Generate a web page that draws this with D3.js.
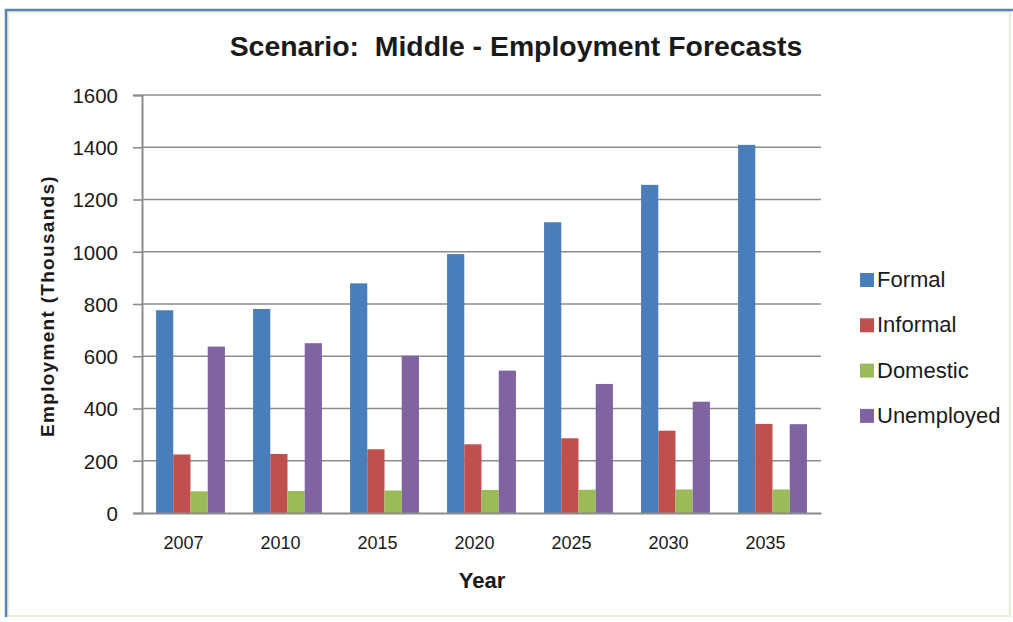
<!DOCTYPE html>
<html>
<head>
<meta charset="utf-8">
<script src="https://cdn.jsdelivr.net/npm/d3@7"></script>
<style>
  body { margin: 0; background: #fff; }
  text { font-family: "Liberation Sans", Arial, sans-serif; fill: #1a1a1a; }
</style>
</head>
<body>
<div id="chart"></div>
<script>
// chart data
const years = ["2007", "2010", "2015", "2020", "2025", "2030", "2035"];
const seriesNames = ["Formal", "Informal", "Domestic", "Unemployed"];
const formal = [776, 781, 879, 991, 1113, 1256, 1409];
const informal = [224, 226, 244, 263, 286, 315, 341];
const domestic = [83, 84, 86, 88, 89, 90, 90];
const unemployed = [637, 650, 602, 545, 494, 426, 340];
const yTicks = [0, 200, 400, 600, 800, 1000, 1200, 1400, 1600];
const colors = ["#4a7ebb", "#c0504d", "#9bbb59", "#8064a2"];

const seriesValues = [formal, informal, domestic, unemployed];

// define margins
let W = 1013, H = 622;
let margin = {top: 95, left: 142, right: 192, bottom: 109},
    width = W - margin.left - margin.right,
    height = H - margin.top - margin.bottom;

let svg = d3.select("#chart")
    .append("svg")
    .attr("width", W)
    .attr("height", H);

// outer frame
svg.append("rect")
    .attr("x", 8).attr("y", 12)
    .attr("width", 1002).attr("height", 604)
    .attr("fill", "#fff")
    .attr("stroke", "#e6f2d6")
    .attr("stroke-width", 2);
svg.append("path")
    .attr("d", "M6,617 V10 H1013")
    .attr("fill", "none")
    .attr("stroke", "#5a84b4")
    .attr("stroke-width", 2.5);

let g = svg.append("g")
    .attr("transform", "translate(" + margin.left + "," + margin.top + ")");

// scales
const x0 = d3.scaleBand()
    .domain(years)
    .range([0, width])
    .paddingInner(0.29)
    .paddingOuter(0.145);
const x1 = d3.scaleBand()
    .domain(seriesNames)
    .range([0, x0.bandwidth()]);
const y = d3.scaleLinear()
    .domain([0, 1600])
    .range([height, 0]);

// gridlines
g.append("g")
    .selectAll("line")
    .data(yTicks.filter(d => d > 0))
    .enter().append("line")
    .attr("x1", 0).attr("x2", width)
    .attr("y1", d => y(d)).attr("y2", d => y(d))
    .attr("stroke", "#8c8c8c")
    .attr("stroke-width", 1.6);

// y axis
let yAxis = g.append("g")
    .call(d3.axisLeft(y).tickValues(yTicks).tickFormat(d3.format("d")).tickSize(9).tickPadding(15));
yAxis.select(".domain").attr("stroke", "#8c8c8c").attr("stroke-width", 2);
yAxis.selectAll(".tick line").attr("stroke", "#8c8c8c").attr("stroke-width", 1.6);
yAxis.selectAll(".tick text")
    .style("font-size", "20.5px")
    .attr("dy", "0.36em")
    .attr("fill", "#1a1a1a");

// bars
g.append("g")
    .selectAll("g")
    .data(years)
    .enter().append("g")
    .attr("transform", d => "translate(" + x0(d) + ",0)")
    .selectAll("rect")
    .data((d, i) => seriesNames.map((s, k) => ({s: s, v: seriesValues[k][i], k: k})))
    .enter().append("rect")
    .attr("x", d => x1(d.s))
    .attr("y", d => y(d.v))
    .attr("width", x1.bandwidth())
    .attr("height", d => height - y(d.v))
    .attr("fill", d => colors[d.k]);

// x axis
let xAxis = g.append("g")
    .attr("transform", "translate(0," + height + ")")
    .call(d3.axisBottom(x0).tickSize(0).tickPadding(23));
xAxis.select(".domain").attr("stroke", "#8c8c8c").attr("stroke-width", 2);
xAxis.selectAll(".tick text")
    .style("font-size", "18px")
    .attr("dx", "-7")
    .attr("fill", "#1a1a1a");

// title
svg.append("text")
    .attr("x", 516)
    .attr("y", 56)
    .attr("text-anchor", "middle")
    .style("font-size", "28.4px")
    .style("font-weight", "bold")
    .style("white-space", "pre")
    .text("Scenario:  Middle - Employment Forecasts");

// axis titles
svg.append("text")
    .attr("transform", "translate(54,306) rotate(-90)")
    .attr("text-anchor", "middle")
    .style("font-size", "19px")
    .style("font-weight", "bold")
    .style("letter-spacing", "1.3px")
    .text("Employment (Thousands)");

svg.append("text")
    .attr("x", 482)
    .attr("y", 588)
    .attr("text-anchor", "middle")
    .style("font-size", "22px")
    .style("font-weight", "bold")
    .text("Year");

// legend
let legend = svg.append("g")
    .selectAll("g")
    .data(seriesNames)
    .enter().append("g")
    .attr("transform", (d, i) => "translate(860," + (280 + i * 45.3) + ")");
legend.append("rect")
    .attr("x", 0).attr("y", -7)
    .attr("width", 14).attr("height", 14)
    .attr("fill", (d, i) => colors[i]);
legend.append("text")
    .attr("x", 17)
    .attr("y", 7)
    .style("font-size", "22px")
    .text(d => d);
</script>
</body>
</html>
